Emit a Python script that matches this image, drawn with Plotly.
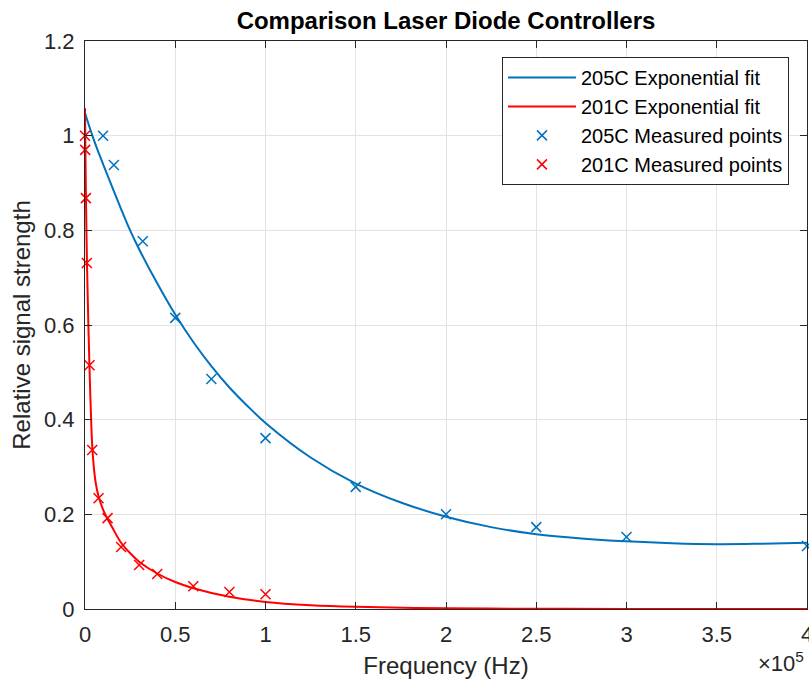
import plotly.graph_objects as go

# Fitted curves
fit205_x = [0, 5e3, 1e4, 2e4, 2.5e4, 3e4, 4e4, 5e4, 6e4, 7e4, 8e4, 9e4, 1e5, 1.25e5, 1.5e5,
            1.75e5, 2e5, 2.25e5, 2.5e5, 2.75e5, 3e5, 3.25e5, 3.5e5, 3.75e5, 4e5]
fit205_y = [1.048, 0.99, 0.94, 0.845, 0.80, 0.76, 0.688, 0.622, 0.564, 0.513, 0.468, 0.429, 0.393,
            0.32, 0.265, 0.225, 0.195, 0.173, 0.158, 0.149, 0.143, 0.139, 0.137, 0.138, 0.14]

fit201_x = [0, 250, 500, 1000, 1500, 2000, 2500, 3000, 4000, 5000, 6000, 7500, 10000, 12500, 15000,
            20000, 25000, 30000, 40000, 50000, 60000, 80000, 100000, 125000, 150000, 200000,
            250000, 300000, 400000]
fit201_y = [1.058, 0.96, 0.88, 0.75, 0.66, 0.58, 0.51, 0.445, 0.345, 0.295, 0.265, 0.238, 0.21, 0.19,
            0.173, 0.14, 0.118, 0.10, 0.075, 0.057, 0.044, 0.026, 0.015, 0.008, 0.0045, 0.0015,
            0.0005, 0.0002, 0.0]

# Measured points
meas205_x = [1e4, 1.6e4, 3.2e4, 5e4, 7e4, 1e5, 1.5e5, 2e5, 2.5e5, 3e5, 4e5]
meas205_y = [1.0, 0.938, 0.777, 0.615, 0.486, 0.361, 0.258, 0.20, 0.173, 0.152, 0.133]

meas201_x = [0, 100, 500, 1000, 2500, 4000, 7500, 12500, 20000, 30000, 40000, 60000, 80000, 100000]
meas201_y = [1.0, 0.97, 0.868, 0.731, 0.515, 0.336, 0.234, 0.192, 0.131, 0.093, 0.074, 0.048, 0.036, 0.031]

x_tickvals = [0, 5e4, 1e5, 1.5e5, 2e5, 2.5e5, 3e5, 3.5e5, 4e5]
x_ticktext = ["0", "0.5", "1", "1.5", "2", "2.5", "3", "3.5", "4"]
y_tickvals = [0, 0.2, 0.4, 0.6, 0.8, 1.0, 1.2]
y_ticktext = ["0", "0.2", "0.4", "0.6", "0.8", "1", "1.2"]

BLUE = "#0072BD"
RED = "#FF0000"
FONT = "Liberation Sans, Arial, Helvetica, sans-serif"
AX = "#262626"

fig = go.Figure()
fig.add_trace(go.Scatter(x=fit205_x, y=fit205_y, mode="lines", name="205C Exponential fit",
                         legendgroup="a", line=dict(color=BLUE, width=2, shape="spline")))
fig.add_trace(go.Scatter(x=fit201_x, y=fit201_y, mode="lines", name="201C Exponential fit",
                         legendgroup="b", line=dict(color=RED, width=2, shape="spline")))
fig.add_trace(go.Scatter(x=meas205_x, y=meas205_y, mode="markers", name="205C Measured points",
                         legendgroup="c",
                         marker=dict(symbol="x-thin", size=10, color=BLUE,
                                     line=dict(color=BLUE, width=1.5)), cliponaxis=False))
fig.add_trace(go.Scatter(x=meas201_x, y=meas201_y, mode="markers", name="201C Measured points",
                         legendgroup="d",
                         marker=dict(symbol="x-thin", size=10, color=RED,
                                     line=dict(color=RED, width=1.5)), cliponaxis=False))

axis_common = dict(showline=True, linecolor=AX, linewidth=1, mirror="ticks", ticks="inside",
                   ticklen=7, tickcolor=AX, showgrid=True, gridcolor="#e3e3e3", gridwidth=1,
                   zeroline=False, automargin=False, ticklabeloverflow="allow",
                   tickfont=dict(family=FONT, size=22, color=AX))

fig.update_layout(
    width=809, height=680,
    paper_bgcolor="white", plot_bgcolor="white",
    margin=dict(l=85, r=2, t=41, b=71, autoexpand=False),
    title=dict(text="<b>Comparison Laser Diode Controllers</b>", x=(85 + 807) / 2 / 809, xanchor="center",
               y=1 - 21 / 680, yanchor="middle", font=dict(family=FONT, size=24, color="black")),
    xaxis=dict(range=[0, 4e5], tickvals=x_tickvals, ticktext=x_ticktext, ticklabelstandoff=6,
               title=dict(text="Frequency (Hz)", font=dict(family=FONT, size=24, color=AX), standoff=10),
               **axis_common),
    yaxis=dict(range=[0, 1.2], tickvals=y_tickvals, ticktext=y_ticktext, ticklabelstandoff=5,
               title=dict(text="Relative signal strength", font=dict(family=FONT, size=24, color=AX), standoff=6),
               **axis_common),
    legend=dict(x=0.975, y=0.972, xanchor="right", yanchor="top", bgcolor="white",
                bordercolor=AX, borderwidth=1, font=dict(family=FONT, size=20, color="black"),
                itemwidth=68, tracegroupgap=0, traceorder="grouped"),
    showlegend=True,
)
fig.add_annotation(text="×10<sup>5</sup>", xref="paper", yref="paper", x=0.998, y=-0.093,
                   xanchor="right", yanchor="middle", showarrow=False,
                   font=dict(family=FONT, size=22, color=AX))

fig.write_html("out.html", config={"displayModeBar": False},
               post_script="document.body.style.margin='0';document.body.style.overflow='hidden';")
